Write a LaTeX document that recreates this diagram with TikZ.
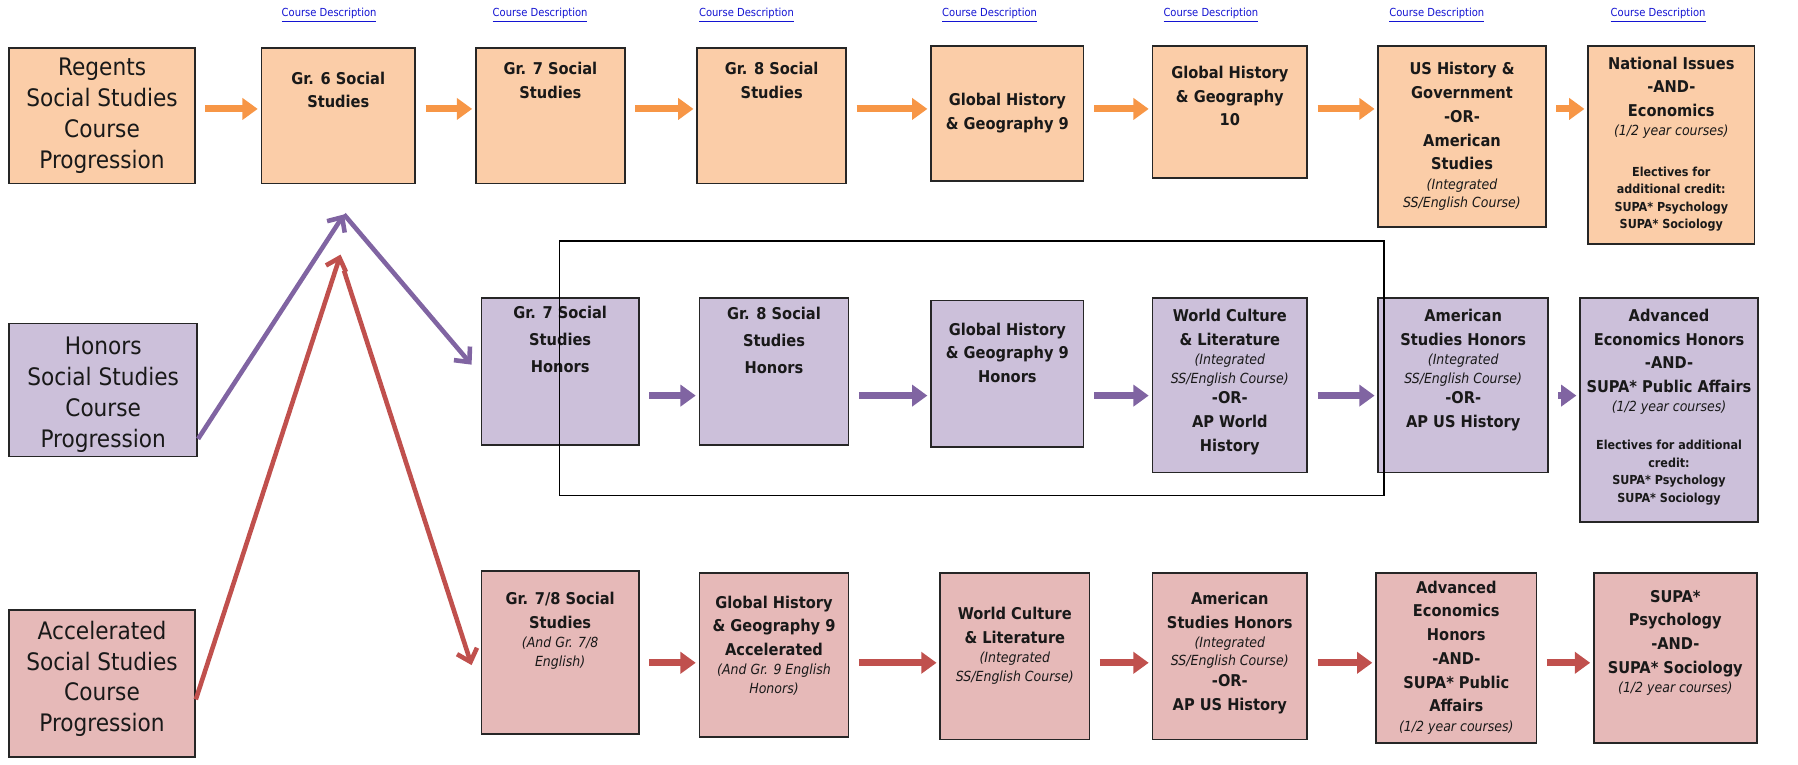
\documentclass[tikz,border=0pt]{standalone}
\usepackage{fontspec}
\setmainfont{DejaVu Sans Condensed}
\usetikzlibrary{arrows.meta,fit,positioning}

\definecolor{regfill}{RGB}{251,205,168}
\definecolor{honfill}{RGB}{204,192,218}
\definecolor{accfill}{RGB}{230,185,184}
\definecolor{regarr}{RGB}{247,150,70}
\definecolor{honarr}{RGB}{128,100,162}
\definecolor{accarr}{RGB}{192,80,77}
\definecolor{linkblue}{RGB}{20,20,210}

\newcommand\itl{\fontsize{7.3}{8}\selectfont\mdseries\itshape}
\newcommand\smb{\fontsize{6.5}{7}\selectfont}

\begin{document}
\begin{tikzpicture}[x=0.6pt,y=-0.6pt,
  box/.style={draw=black!85,line width=0.9pt,inner sep=0pt},
  reg/.style={box,fill=regfill},
  hon/.style={box,fill=honfill},
  acc/.style={box,fill=accfill},
  head/.style={font=\fontsize{12.6}{16.2}\selectfont,align=center,text=black!90},
  txt/.style={font=\fontsize{8.5}{12.4}\selectfont\bfseries,align=center,inner sep=0pt,text=black!90},
  link/.style={font=\fontsize{5.8}{7}\selectfont,text=linkblue},
  barr/.style={line width=3.6pt,-{Triangle[width=11pt,length=8pt]},shorten <=5pt,shorten >=1.5pt},
  larr/.style={line width=2.4pt,-{Straight Barb[width=11pt,length=6pt]}}]
\useasboundingbox (0,0) rectangle (1568,667);

% links above the first row
\foreach \x [count=\i] in {287,471,651,863,1056,1253,1446}
  \node[link] (cd\i) at (\x,13) {\underline{Course Description}};

% regents row
\node[reg,fit={(8,42) (170,160)}] (regh) {};
\node[head] (reght) at (regh) {Regents\\Social Studies\\Course\\Progression};
\node[reg,fit={(228,42) (362,160)}] (gr6) {};
\node[txt,below=12.6pt of gr6.north] (gr6t) {Gr. 6 Social\\Studies};
\node[reg,fit={(415,42) (545,160)}] (gr7) {};
\node[txt,below=7.8pt of gr7.north] (gr7t) {Gr. 7 Social\\Studies};
\node[reg,fit={(608,42) (738,160)}] (gr8) {};
\node[txt,below=7.8pt of gr8.north] (gr8t) {Gr. 8 Social\\Studies};
\node[reg,fit={(812,40) (945,158)}] (gh9) {};
\node[txt,below=25pt of gh9.north] (gh9t) {Global History\\\& Geography 9};
\node[reg,fit={(1005,40) (1140,155)}] (gh10) {};
\node[txt,below=10.8pt of gh10.north] (gh10t) {Global History\\\& Geography\\10};
\node[reg,fit={(1202,40) (1348,198)}] (ush) {};
\node[txt,below=9pt of ush.north] (usht) {US History \&\\Government\\-OR-\\American\\Studies\\[-2.3pt]\itl (Integrated\\[-2.7pt]\itl SS/English Course)};
\node[reg,fit={(1385,40) (1530,213)}] (nis) {};
\node[txt,below=6pt of nis.north] (nist) {National Issues\\-AND-\\Economics\\[-2.3pt]\itl (1/2 year courses)\\[8.7pt]\smb Electives for\\[-3.3pt]\smb additional credit:\\[-3.3pt]\smb SUPA* Psychology\\[-3.3pt]\smb SUPA* Sociology};

% honors row
\node[hon,fit={(8,282) (172,398)}] (honh) {};
\node[head,yshift=-2.4pt] (honht) at (honh) {Honors\\Social Studies\\Course\\Progression};
\node[hon,fit={(420,260) (557,388)}] (gr7h) {};
\node[txt,below=4.2pt of gr7h.north] (gr7ht) {Gr. 7 Social\\[1.8pt]Studies\\[1.8pt]Honors};
\node[hon,fit={(610,260) (740,388)}] (gr8h) {};
\node[txt,below=4.8pt of gr8h.north] (gr8ht) {Gr. 8 Social\\[1.8pt]Studies\\[1.8pt]Honors};
\node[hon,fit={(812,262) (945,390)}] (gh9h) {};
\node[txt,below=12pt of gh9h.north] (gh9ht) {Global History\\\& Geography 9\\Honors};
\node[hon,fit={(1005,260) (1140,412)}] (wclh) {};
\node[txt,below=6pt of wclh.north] (wclht) {World Culture\\\& Literature\\[-2.3pt]\itl (Integrated\\[-2.7pt]\itl SS/English Course)\\[-1.5pt]-OR-\\AP World\\History};
\node[hon,fit={(1202,260) (1350,412)}] (amsh) {};
\node[txt,below=6pt of amsh.north] (amsht) {American\\Studies Honors\\[-2.3pt]\itl (Integrated\\[-2.7pt]\itl SS/English Course)\\[-1.5pt]-OR-\\AP US History};
\node[hon,fit={(1378,260) (1533,455)}] (aech) {};
\node[txt,below=6pt of aech.north] (aecht) {Advanced\\Economics Honors\\-AND-\\SUPA* Public Affairs\\[-2.3pt]\itl (1/2 year courses)\\[7.5pt]\smb Electives for additional\\[-3.3pt]\smb credit:\\[-3.3pt]\smb SUPA* Psychology\\[-3.3pt]\smb SUPA* Sociology};

% accelerated row
\node[acc,fit={(8,532) (170,660)}] (acch) {};
\node[head,yshift=2.4pt] (accht) at (acch) {Accelerated\\Social Studies\\Course\\Progression};
\node[acc,fit={(420,498) (557,640)}] (gr78) {};
\node[txt,below=11.4pt of gr78.north] (gr78t) {Gr. 7/8 Social\\Studies\\[-2.3pt]\itl (And Gr. 7/8\\[-2.7pt]\itl English)};
\node[acc,fit={(610,500) (740,643)}] (gh9a) {};
\node[txt,below=12pt of gh9a.north] (gh9at) {Global History\\\& Geography 9\\Accelerated\\[-2.3pt]\itl (And Gr. 9 English\\[-2.7pt]\itl Honors)};
\node[acc,fit={(820,500) (950,645)}] (wcla) {};
\node[txt,below=18pt of wcla.north] (wclat) {World Culture\\\& Literature\\[-2.3pt]\itl (Integrated\\[-2.7pt]\itl SS/English Course)};
\node[acc,fit={(1005,500) (1140,645)}] (amsa) {};
\node[txt,below=10pt of amsa.north] (amsat) {American\\Studies Honors\\[-2.3pt]\itl (Integrated\\[-2.7pt]\itl SS/English Course)\\[-1.5pt]-OR-\\AP US History};
\node[acc,fit={(1200,500) (1340,648)}] (aeca) {};
\node[txt,below=4.2pt of aeca.north] (aecat) {Advanced\\Economics\\Honors\\-AND-\\SUPA* Public\\Affairs\\[-2.3pt]\itl (1/2 year courses)};
\node[acc,fit={(1390,500) (1532,648)}] (supa) {};
\node[txt,below=9pt of supa.north] (supat) {SUPA*\\Psychology\\-AND-\\SUPA* Sociology\\[-2.3pt]\itl (1/2 year courses)};

% frame round the honors middle
\node[draw=black,line width=0.8pt,inner sep=0pt,fit={(488,210) (1207,432)}] (hframe) {};

% row arrows
\coordinate (r1) at (0,95);
\coordinate (r2) at (0,345);
\coordinate (r3) at (0,578);
\foreach \a/\b in {regh/gr6,gr6/gr7,gr7/gr8,gr8/gh9,gh9/gh10,gh10/ush,ush/nis}
  \draw[barr,regarr] (\a.east |- r1) -- (\b.west |- r1);
\foreach \a/\b in {gr7h/gr8h,gr8h/gh9h,gh9h/wclh,wclh/amsh,amsh/aech}
  \draw[barr,honarr] (\a.east |- r2) -- (\b.west |- r2);
\foreach \a/\b in {gr78/gh9a,gh9a/wcla,wcla/amsa,amsa/aeca,aeca/supa}
  \draw[barr,accarr] (\a.east |- r3) -- (\b.west |- r3);

% honors and accelerated start from gr. 6
\coordinate (hpeak) at (300,187);
\coordinate (apeak) at (297,222);
\coordinate (afork) at (300,236);
\draw[larr,honarr] ([yshift=9.6pt]honh.south east) -- (hpeak);
\draw[larr,honarr] (hpeak) -- ([xshift=-4.8pt,yshift=3.6pt]gr7h.west);
\draw[larr,accarr] ([yshift=-8.4pt]acch.east) -- (apeak);
\draw[larr,accarr] (afork) -- ([xshift=-4.8pt,yshift=-6.6pt]gr78.west);
\end{tikzpicture}
\end{document}
